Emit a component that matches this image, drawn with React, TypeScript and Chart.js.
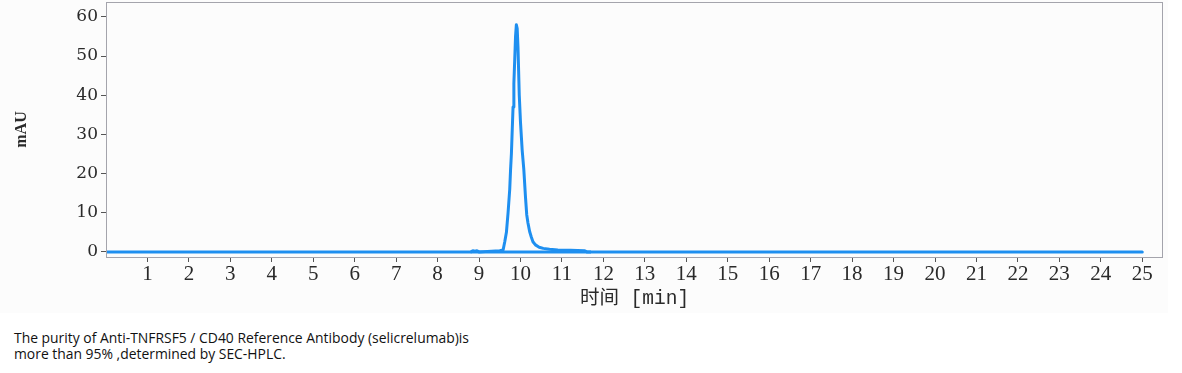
import React, { useEffect, useRef } from "react";
import { Chart, registerables } from "chart.js";

Chart.register(...registerables);

// Retention time (min) and absorbance (mAU) of the SEC-HPLC trace
const times: number[] = [
  0, 8.8, 8.85, 8.9, 8.95, 9.0, 9.3, 9.5, 9.58, 9.62, 9.66, 9.7, 9.74, 9.76,
  9.78, 9.8, 9.82, 9.84, 9.86, 9.88, 9.9, 9.92, 9.94, 9.97, 10.0, 10.04,
  10.08, 10.12, 10.15, 10.18, 10.22, 10.26, 10.3, 10.36, 10.45, 10.55, 10.7,
  10.9, 11.2, 11.55, 11.6, 12, 25,
];
const absorbance: number[] = [
  0, 0, 0.3, 0.2, 0.3, 0, 0.2, 0.3, 0.5, 2.6, 5, 10, 16, 21, 25, 31, 37, 43,
  49, 55, 58.0, 57, 52, 40, 33, 26, 21, 14, 9.5, 7.4, 5.2, 3.8, 2.6, 1.8, 1.2,
  0.9, 0.7, 0.5, 0.4, 0.3, 0, 0, 0,
];
// Integration baseline drawn under the peak
const baselineTimes: number[] = [8.8, 11.7];
const baselineValues: number[] = [0, 0];

const xTicks: number[] = [
  1, 2, 3, 4, 5, 6, 7, 8, 9, 10, 11, 12, 13, 14, 15, 16, 17, 18, 19, 20, 21,
  22, 23, 24, 25,
];
const yTicks: number[] = [0, 10, 20, 30, 40, 50, 60];

const xTitle = "时间 [min]";
const yTitle = "mAU";
const captionLines: string[] = [
  "The purity of Anti-TNFRSF5 / CD40 Reference Antibody (selicrelumab)is",
  "more than 95% ,determined by SEC-HPLC.",
];

const LINE_COLOR = "#1e8ff0";

const borderPlugin = {
  id: "frameBorder",
  afterDatasetsDraw(chart: any) {
    const { ctx, chartArea } = chart;
    ctx.save();
    ctx.strokeStyle = "#a4a4ac";
    ctx.lineWidth = 1;
    ctx.strokeRect(
      Math.round(chartArea.left) + 0.5,
      Math.round(chartArea.top) + 0.5,
      Math.round(chartArea.right - chartArea.left) - 1,
      Math.round(chartArea.bottom - chartArea.top)
    );
    ctx.restore();
  },
};

export default function App() {
  const canvasRef = useRef<HTMLCanvasElement | null>(null);

  useEffect(() => {
    if (!canvasRef.current) return;
    const chart = new Chart(canvasRef.current, {
      type: "line",
      data: {
        datasets: [
          {
            label: "baseline",
            data: baselineTimes.map((t, i) => ({ x: t, y: baselineValues[i] })),
            borderColor: LINE_COLOR,
            borderWidth: 3,
            pointRadius: 0,
            tension: 0,
          },
          {
            label: "trace",
            data: times.map((t, i) => ({ x: t, y: absorbance[i] })),
            borderColor: LINE_COLOR,
            borderWidth: 3,
            borderJoinStyle: "round",
            borderCapStyle: "round",
            pointRadius: 0,
            tension: 0,
          },
        ],
      },
      options: {
        responsive: false,
        animation: false,
        events: [],
        layout: { padding: { top: 2, right: 5, left: 0, bottom: 0 } },
        plugins: {
          legend: { display: false },
          tooltip: { enabled: false },
        },
        scales: {
          x: {
            type: "linear",
            min: 0,
            max: 25.5,
            afterBuildTicks: (scale: any) => {
              scale.ticks = xTicks.map((v) => ({ value: v }));
            },
            afterFit: (scale: any) => {
              scale.height = 56;
              scale.paddingLeft = 0;
              scale.paddingRight = 0;
            },
            grid: {
              drawOnChartArea: false,
              drawTicks: true,
              tickLength: 5,
              color: "#555",
            },
            border: { display: false },
            ticks: {
              autoSkip: false,
              maxRotation: 0,
              padding: 0,
              color: "#2a2a2a",
              font: { family: "'Liberation Serif', serif", size: 21 },
            },
            title: {
              display: true,
              text: xTitle,
              color: "#2a2a2a",
              font: {
                family: "'Liberation Mono', 'Noto Sans CJK SC', monospace",
                size: 19.5,
              },
              padding: { top: 0, bottom: 2 },
            },
          },
          y: {
            type: "linear",
            min: -1.3,
            max: 63.8,
            afterBuildTicks: (scale: any) => {
              scale.ticks = yTicks.map((v) => ({ value: v }));
            },
            afterFit: (scale: any) => {
              scale.width = 106;
              scale.paddingTop = 0;
              scale.paddingBottom = 0;
            },
            grid: {
              drawOnChartArea: false,
              drawTicks: true,
              tickLength: 5,
              color: "#555",
            },
            border: { display: false },
            ticks: {
              padding: 3,
              color: "#2a2a2a",
              font: { family: "'DejaVu Serif', serif", size: 17 },
            },
            title: {
              display: true,
              text: yTitle,
              color: "#2a2a2a",
              font: {
                family: "'Liberation Serif', serif",
                size: 16,
                weight: "bold",
              },
              padding: { top: 12, bottom: 0 },
            },
          },
        },
      },
      plugins: [borderPlugin],
    });
    return () => chart.destroy();
  }, []);

  return (
    <div
      style={{
        position: "absolute",
        left: 0,
        top: 0,
        width: 1182,
        height: 373,
        background: "#ffffff",
        overflow: "hidden",
      }}
    >
      <div
        style={{
          position: "absolute",
          left: 0,
          top: 0,
          width: 1168,
          height: 313,
          background: "#fcfcfc",
        }}
      >
        <canvas ref={canvasRef} width={1168} height={313} />
      </div>
      <div
        style={{
          position: "absolute",
          left: 14,
          top: 330,
          fontFamily: "'Open Sans', 'Noto Sans', sans-serif",
          fontSize: 13.9,
          lineHeight: "16px",
          color: "#111",
          whiteSpace: "nowrap",
        }}
      >
        {captionLines.map((l, i) => (
          <div key={i}>{l}</div>
        ))}
      </div>
    </div>
  );
}
